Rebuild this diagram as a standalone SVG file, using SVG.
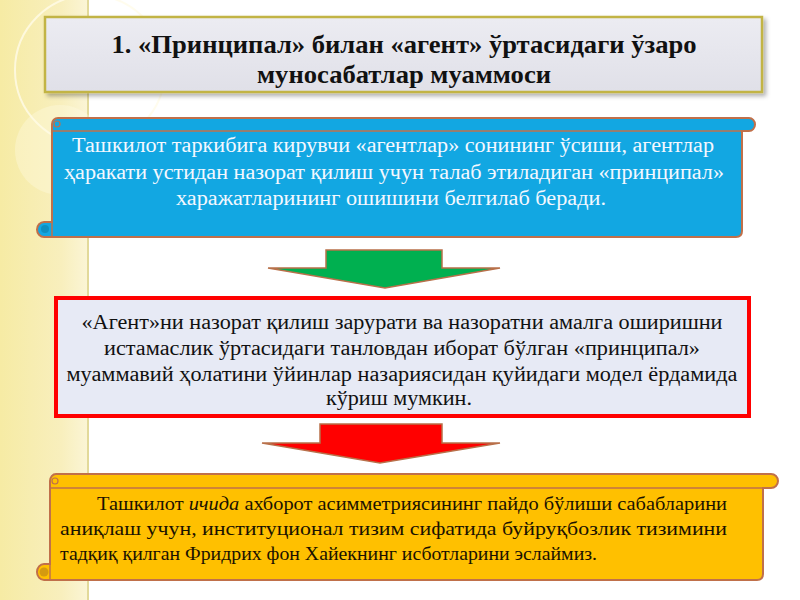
<svg xmlns="http://www.w3.org/2000/svg" width="800" height="600" viewBox="0 0 800 600">
<defs>
<linearGradient id="strip" x1="0" y1="0" x2="1" y2="0">
<stop offset="0" stop-color="#f6eba4"/>
<stop offset="0.7" stop-color="#f8efbd"/>
<stop offset="1" stop-color="#fbf5d6"/>
</linearGradient>
<linearGradient id="titleFill" x1="0" y1="0" x2="0" y2="1">
<stop offset="0" stop-color="#ececf2"/>
<stop offset="1" stop-color="#e0e0e8"/>
</linearGradient>
<filter id="shadow" x="-5%" y="-20%" width="110%" height="150%">
<feDropShadow dx="3" dy="3" stdDeviation="2" flood-color="#000" flood-opacity="0.3"/>
</filter>
</defs>
<style>
text{font-family:'Liberation Serif','Times New Roman',Tinos,'DejaVu Serif',serif}
.c{text-anchor:middle}
.title{font-size:25px;font-weight:bold;fill:#111}
.blue{font-size:20px;fill:#f4f8ff}
.red{font-size:20px;fill:#111}
.org{font-size:19px;fill:#1a1200}
.scrollB{fill:#12a7e2;stroke:#c0704a;stroke-width:2}
.scrollO{fill:#ffc000;stroke:#c0704a;stroke-width:2}
.arrow{stroke:#b8704a;stroke-width:1.5}
</style>
<rect x="0" y="0" width="800" height="600" fill="#ffffff"/>
<rect x="0" y="0" width="88" height="600" fill="url(#strip)"/>
<rect x="87" y="0" width="2" height="600" fill="#e2d99a"/>
<circle cx="90" cy="70" r="75" fill="none" stroke="#fffbe8" stroke-width="2" opacity="0.8"/>
<circle cx="60" cy="150" r="45" fill="#fffbe6" opacity="0.35"/>

<g id="title">
<rect x="45" y="17" width="717" height="75" fill="url(#titleFill)" stroke="#c2b445" stroke-width="2.5" filter="url(#shadow)"/>
<text class="c title" font-family="Liberation Serif, serif" x="404" y="53" textLength="585" lengthAdjust="spacingAndGlyphs">1. «Принципал» билан «агент» ўртасидаги ўзаро</text>
<text class="c title" font-family="Liberation Serif, serif" x="404" y="83" textLength="294" lengthAdjust="spacingAndGlyphs">муносабатлар муаммоси</text>
</g>

<g id="blue-scroll">
<path class="scrollB" d="M52,124 L52,222 L44,222 A7,7.5 0 0 0 44,237 L736,237 Q742,237 742,231 L742,131 L749,131 A6,6.5 0 0 0 749,118 L58,118 A6,6 0 0 0 52,124 Z"/>
<path d="M52,131 L742,131" fill="none" stroke="#c0704a" stroke-width="1.5"/>
<path d="M52,222 L52,237" fill="none" stroke="#c0704a" stroke-width="1.5"/>
<circle cx="57" cy="124" r="3" fill="none" stroke="#c0704a" stroke-width="1.2"/>
<circle cx="45" cy="229" r="4" fill="#0e8fc0" stroke="none"/>
<text class="c blue" x="393" y="152" textLength="642" lengthAdjust="spacingAndGlyphs">Ташкилот таркибига кирувчи «агентлар» сонининг ўсиши, агентлар</text>
<text class="c blue" x="394" y="179" textLength="660" lengthAdjust="spacingAndGlyphs">ҳаракати устидан назорат қилиш учун талаб этиладиган «принципал»</text>
<text class="c blue" x="391" y="205" textLength="430" lengthAdjust="spacingAndGlyphs">харажатларининг ошишини белгилаб беради.</text>
</g>

<g id="connectors">
<polygon class="arrow" fill="#00b050" points="326,250 442,250 442,268 500,268 385,288 268,268 326,268"/>
<polygon class="arrow" fill="#ff0000" points="320,424 442,424 442,443 500,443 380,463 262,443 320,443"/>
</g>

<g id="red-box">
<rect x="56" y="298" width="693" height="118" fill="#e7eaf5" stroke="#ff0000" stroke-width="4"/>
<text class="c red" x="402" y="329" textLength="641" lengthAdjust="spacingAndGlyphs">«Агент»ни назорат қилиш зарурати ва назоратни амалга оширишни</text>
<text class="c red" x="402" y="355" textLength="596" lengthAdjust="spacingAndGlyphs">истамаслик ўртасидаги танловдан иборат бўлган «принципал»</text>
<text class="c red" x="402" y="381" textLength="671" lengthAdjust="spacingAndGlyphs">муаммавий ҳолатини ўйинлар назариясидан қуйидаги модел ёрдамида</text>
<text class="c red" x="399" y="405" textLength="146" lengthAdjust="spacingAndGlyphs">кўриш мумкин.</text>
</g>

<g id="orange-scroll">
<path class="scrollO" d="M50,481 L50,564 L44,564 A7,8 0 0 0 44,580 L757,580 Q763,580 763,574 L763,488 L771,488 A7,7 0 0 0 771,474 L56,474 A6,7 0 0 0 50,481 Z"/>
<path d="M50,488 L763,488" fill="none" stroke="#c0704a" stroke-width="1.5"/>
<path d="M50,564 L50,580" fill="none" stroke="#c0704a" stroke-width="1.5"/>
<circle cx="55" cy="481" r="3" fill="none" stroke="#c0704a" stroke-width="1.2"/>
<circle cx="44" cy="572" r="4.5" fill="#d49a10" stroke="none"/>
<text class="org" x="97" y="510" textLength="630" lengthAdjust="spacingAndGlyphs">Ташкилот <tspan font-style="italic">ичида</tspan> ахборот асимметриясининг пайдо бўлиши сабабларини</text>
<text class="org" x="60" y="535" textLength="667" lengthAdjust="spacingAndGlyphs">аниқлаш  учун,  институционал  тизим  сифатида  буйруқбозлик  тизимини</text>
<text class="org" x="60" y="560" textLength="537" lengthAdjust="spacingAndGlyphs">тадқиқ қилган Фридрих фон Хайекнинг исботларини эслаймиз.</text>
</g>
</svg>
